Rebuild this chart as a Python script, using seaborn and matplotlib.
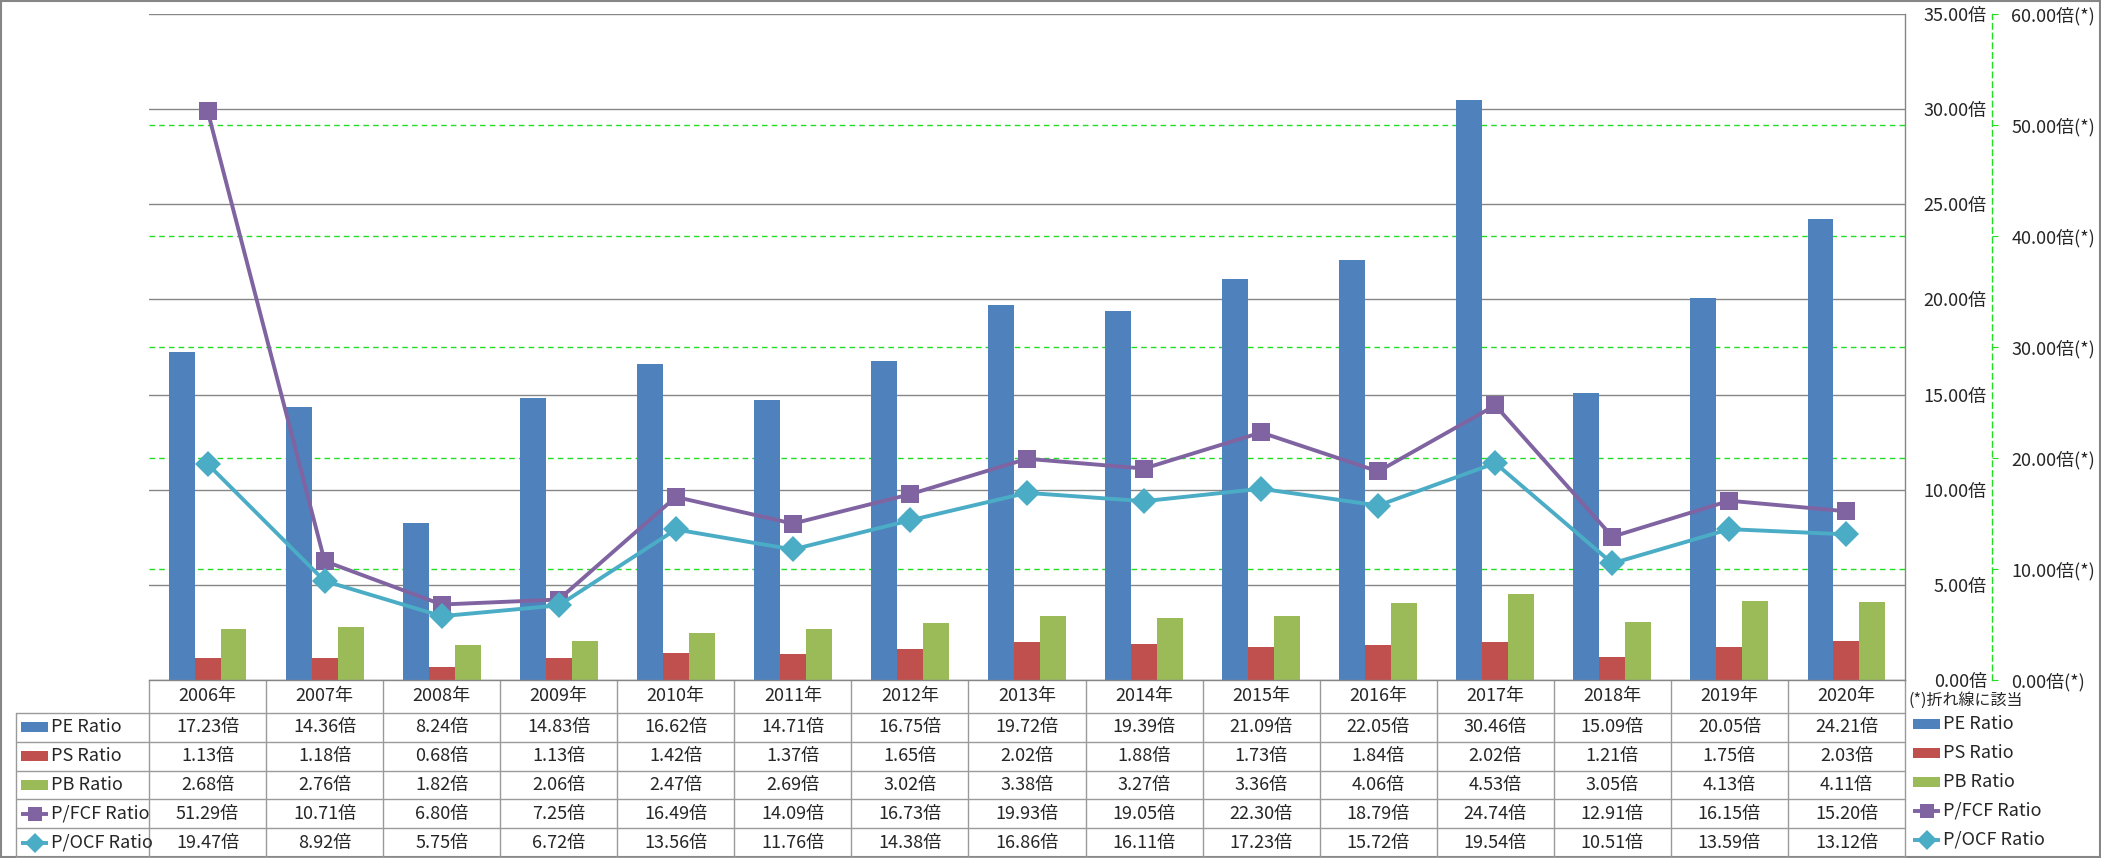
import numpy as np
import pandas as pd
import matplotlib
matplotlib.use("Agg")
import matplotlib.pyplot as plt
import seaborn as sns
from matplotlib.patches import Rectangle
from matplotlib.ticker import FixedLocator

years = ["2006年", "2007年", "2008年", "2009年", "2010年", "2011年", "2012年", "2013年",
         "2014年", "2015年", "2016年", "2017年", "2018年", "2019年", "2020年"]
pe_ratio = [17.23, 14.36, 8.24, 14.83, 16.62, 14.71, 16.75, 19.72, 19.39, 21.09, 22.05, 30.46, 15.09, 20.05, 24.21]
ps_ratio = [1.13, 1.18, 0.68, 1.13, 1.42, 1.37, 1.65, 2.02, 1.88, 1.73, 1.84, 2.02, 1.21, 1.75, 2.03]
pb_ratio = [2.68, 2.76, 1.82, 2.06, 2.47, 2.69, 3.02, 3.38, 3.27, 3.36, 4.06, 4.53, 3.05, 4.13, 4.11]
pfcf_ratio = [51.29, 10.71, 6.80, 7.25, 16.49, 14.09, 16.73, 19.93, 19.05, 22.30, 18.79, 24.74, 12.91, 16.15, 15.20]
pocf_ratio = [19.47, 8.92, 5.75, 6.72, 13.56, 11.76, 14.38, 16.86, 16.11, 17.23, 15.72, 19.54, 10.51, 13.59, 13.12]

bar_names = ["PE Ratio", "PS Ratio", "PB Ratio"]
line_names = ["P/FCF Ratio", "P/OCF Ratio"]
primary_ticks = [0, 5, 10, 15, 20, 25, 30, 35]
secondary_ticks = [0, 10, 20, 30, 40, 50, 60]
note_text = "(*)折れ線に該当"

BLUE, RED, GREEN, PURPLE, CYAN = "#4F81BD", "#C0504D", "#9BBB59", "#8064A2", "#4BACC6"
GRID = "#868686"
LIME = "#22DD22"
FONT = ["Noto Sans CJK JP", "DejaVu Sans"]
FS = 13

sns.set_style("white")
plt.rcParams["font.family"] = FONT

# --- layout in pixels ---
W, H = 2101, 858
PX_L, PX_R, PX_T, PX_B = 149, 1905, 14, 680
fig = plt.figure(figsize=(W / 100, H / 100), dpi=100)

ov = fig.add_axes([0, 0, 1, 1], zorder=0)
ov.set_xlim(0, W)
ov.set_ylim(H, 0)
ov.axis("off")

ax = fig.add_axes([PX_L / W, 1 - PX_B / H, (PX_R - PX_L) / W, (PX_B - PX_T) / H], zorder=1)
ax.patch.set_alpha(0)

# --- bars ---
df = pd.DataFrame({
    "year": years * 3,
    "metric": [m for m in bar_names for _ in years],
    "value": pe_ratio + ps_ratio + pb_ratio,
})
sns.barplot(data=df, x="year", y="value", hue="metric", palette=[BLUE, RED, GREEN],
            width=0.665, gap=0, saturation=1, errorbar=None, legend=False,
            linewidth=0, ax=ax)
n = len(years)

# --- lines on secondary axis ---
ax2 = ax.twinx()
xs = np.arange(n)
sns.lineplot(x=xs, y=pfcf_ratio, ax=ax2, color=PURPLE, lw=2.8, marker="s",
             markersize=13, markeredgewidth=0)
sns.lineplot(x=xs, y=pocf_ratio, ax=ax2, color=CYAN, lw=2.8, marker="D",
             markersize=13, markeredgewidth=0)

# primary axis (labels sit to the right, next to the secondary spine)
ax.set_xlim(-0.5, n - 0.5)
ax.set_ylim(0, 35)
ax.set_xticks([])
ax.set_xlabel("")
ax.set_ylabel("")
ax.yaxis.tick_right()
ax.set_yticks(primary_ticks)
ax.set_yticklabels([f"{v:.2f}倍" for v in primary_ticks])
ax.tick_params(axis="y", which="major", length=0, pad=59, labelsize=FS,
               labelleft=False, labelright=True)
for lbl in ax.get_yticklabels():
    lbl.set_horizontalalignment("right")
ax.yaxis.set_minor_locator(FixedLocator([v * 35 / 60 for v in secondary_ticks[1:-1]]))
ax.tick_params(axis="y", which="minor", length=0)
ax.grid(axis="y", which="major", color=GRID, lw=1)
ax.grid(axis="y", which="minor", color=LIME, lw=1, ls=(0, (4, 3)))
ax.grid(axis="x", visible=False)
ax.set_axisbelow(True)
for s in ["top", "left"]:
    ax.spines[s].set_visible(False)
for s in ["right", "bottom"]:
    ax.spines[s].set_color(GRID)
    ax.spines[s].set_linewidth(1)

# secondary axis
ax2.set_ylim(0, 60)
ax2.set_xlim(-0.5, n - 0.5)
ax2.set_yticks(secondary_ticks)
ax2.set_yticklabels([f"{v:.2f}倍(*)" for v in secondary_ticks])
ax2.set_ylabel("")
ax2.tick_params(axis="y", length=4, direction="out", color=LIME, pad=10, labelsize=FS)
for s in ["top", "left", "bottom"]:
    ax2.spines[s].set_visible(False)
ax2.spines["right"].set_position(("outward", 62.6))
ax2.spines["right"].set_color(LIME)
ax2.spines["right"].set_linestyle((0, (4, 3)))
ax2.spines["right"].set_linewidth(1)
ax2.grid(False)

# --- data table below the plot ---
TBL = "#9A9A9A"
col_x = PX_L + (PX_R - PX_L) * np.arange(n + 1) / n
row_y = np.linspace(713, 857, 6)
LBL_X = 16
for x in col_x:
    ov.plot([x, x], [PX_B, H], color=TBL, lw=1)
for y in row_y:
    ov.plot([LBL_X, PX_R], [y, y], color=TBL, lw=1)
ov.plot([LBL_X, LBL_X], [row_y[0], H], color=TBL, lw=1)

for i, yr in enumerate(years):
    ov.text((col_x[i] + col_x[i + 1]) / 2, (PX_B + row_y[0]) / 2, yr,
            ha="center", va="center", fontsize=FS)

series = [pe_ratio, ps_ratio, pb_ratio, pfcf_ratio, pocf_ratio]
names = bar_names + line_names
colors = [BLUE, RED, GREEN, PURPLE, CYAN]
markers = [None, None, None, "s", "D"]
for r, vals in enumerate(series):
    yc = (row_y[r] + row_y[r + 1]) / 2
    for i, v in enumerate(vals):
        ov.text((col_x[i] + col_x[i + 1]) / 2, yc, f"{v:.2f}倍",
                ha="center", va="center", fontsize=FS)


def swatch(x, y, color, marker):
    if marker is None:
        ov.add_patch(Rectangle((x, y - 5), 27, 10, color=color, lw=0))
    else:
        ov.plot([x, x + 27], [y, y], color=color, lw=2.8, solid_capstyle="butt")
        ov.plot([x + 13.5], [y], marker=marker, color=color, ms=10, mew=0)


for r, name in enumerate(names):
    yc = (row_y[r] + row_y[r + 1]) / 2
    swatch(21, yc, colors[r], markers[r])
    ov.text(51, yc, name, ha="left", va="center", fontsize=FS)
    # right-hand legend
    swatch(1913, yc - 3, colors[r], markers[r])
    ov.text(1943, yc - 3, name, ha="left", va="center", fontsize=FS)

ov.text(1908, 700, note_text, ha="left", va="center", fontsize=11.5)

ov.add_patch(Rectangle((1, 1), W - 2, H - 2, fill=False, ec=GRID, lw=1.5))

fig.savefig("out.png", dpi=100)
